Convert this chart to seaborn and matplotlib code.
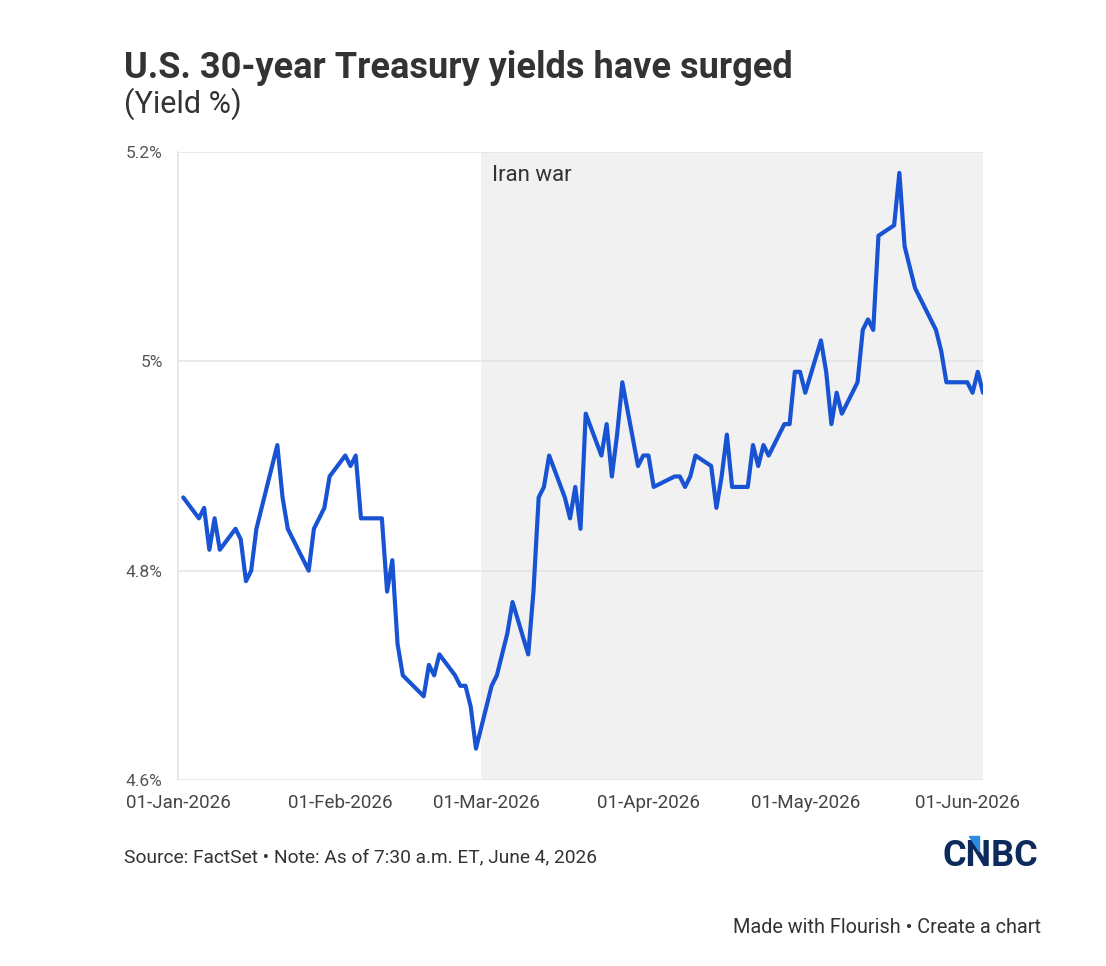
import pandas as pd
import seaborn as sns
import matplotlib.pyplot as plt
from matplotlib.patches import Polygon

# 30-year Treasury yield, daily closes
dates = [
    '2026-01-02', '2026-01-05', '2026-01-06', '2026-01-07', '2026-01-08', '2026-01-09',
    '2026-01-12', '2026-01-13', '2026-01-14', '2026-01-15', '2026-01-16',
    '2026-01-20', '2026-01-21', '2026-01-22', '2026-01-23',
    '2026-01-26', '2026-01-27', '2026-01-28', '2026-01-29', '2026-01-30',
    '2026-02-02', '2026-02-03', '2026-02-04', '2026-02-05', '2026-02-06',
    '2026-02-09', '2026-02-10', '2026-02-11', '2026-02-12', '2026-02-13',
    '2026-02-17', '2026-02-18', '2026-02-19', '2026-02-20',
    '2026-02-23', '2026-02-24', '2026-02-25', '2026-02-26', '2026-02-27',
    '2026-03-02', '2026-03-03', '2026-03-04', '2026-03-05', '2026-03-06',
    '2026-03-09', '2026-03-10', '2026-03-11', '2026-03-12', '2026-03-13',
    '2026-03-16', '2026-03-17', '2026-03-18', '2026-03-19', '2026-03-20',
    '2026-03-23', '2026-03-24', '2026-03-25', '2026-03-26', '2026-03-27',
    '2026-03-30', '2026-03-31', '2026-04-01', '2026-04-02',
    '2026-04-06', '2026-04-07', '2026-04-08', '2026-04-09', '2026-04-10',
    '2026-04-13', '2026-04-14', '2026-04-15', '2026-04-16', '2026-04-17',
    '2026-04-20', '2026-04-21', '2026-04-22', '2026-04-23', '2026-04-24',
    '2026-04-27', '2026-04-28', '2026-04-29', '2026-04-30', '2026-05-01',
    '2026-05-04', '2026-05-05', '2026-05-06', '2026-05-07', '2026-05-08',
    '2026-05-11', '2026-05-12', '2026-05-13', '2026-05-14', '2026-05-15',
    '2026-05-18', '2026-05-19', '2026-05-20', '2026-05-21', '2026-05-22',
    '2026-05-26', '2026-05-27', '2026-05-28', '2026-05-29',
    '2026-06-01', '2026-06-02', '2026-06-03', '2026-06-04',
]
yields = [
    4.87, 4.85, 4.86, 4.82, 4.85, 4.82,
    4.84, 4.83, 4.79, 4.80, 4.84,
    4.92, 4.87, 4.84, 4.83,
    4.80, 4.84, 4.85, 4.86, 4.89,
    4.91, 4.90, 4.91, 4.85, 4.85,
    4.85, 4.78, 4.81, 4.73, 4.70,
    4.68, 4.71, 4.70, 4.72,
    4.70, 4.69, 4.69, 4.67, 4.63,
    4.69, 4.70, 4.72, 4.74, 4.77,
    4.72, 4.78, 4.87, 4.88, 4.91,
    4.87, 4.85, 4.88, 4.84, 4.95,
    4.91, 4.94, 4.89, 4.93, 4.98,
    4.90, 4.91, 4.91, 4.88,
    4.89, 4.89, 4.88, 4.89, 4.91,
    4.90, 4.86, 4.89, 4.93, 4.88,
    4.88, 4.92, 4.90, 4.92, 4.91,
    4.94, 4.94, 4.99, 4.99, 4.97,
    5.02, 4.99, 4.94, 4.97, 4.95,
    4.98, 5.03, 5.04, 5.03, 5.12,
    5.13, 5.18, 5.11, 5.09, 5.07,
    5.03, 5.01, 4.98, 4.98,
    4.98, 4.97, 4.99, 4.97,
]

war_start = '2026-02-28'
y_ticks = [4.6, 4.8, 5.0, 5.2]
y_labels = ['4.6%', '4.8%', '5%', '5.2%']
x_ticks = ['2026-01-01', '2026-02-01', '2026-03-01', '2026-04-01', '2026-05-01', '2026-06-01']
x_labels = ['01-Jan-2026', '01-Feb-2026', '01-Mar-2026', '01-Apr-2026', '01-May-2026', '01-Jun-2026']

df = pd.DataFrame({'date': pd.to_datetime(dates), 'yield': yields})

sns.set_style("white")
plt.rcParams['font.family'] = ['Roboto', 'DejaVu Sans']

fig = plt.figure(figsize=(11.06, 9.66), dpi=100)
ax = fig.add_axes([178 / 1106, 1 - 780 / 966, (983 - 178) / 1106, (780 - 152) / 966])

ax.axvspan(pd.Timestamp(war_start), df['date'].iloc[-1], color='#f1f1f1', zorder=0.2, lw=0)
sns.lineplot(data=df, x='date', y='yield', ax=ax, color='#1753d2', linewidth=3.0, zorder=3)

ax.set_xlim(pd.Timestamp('2026-01-01'), df['date'].iloc[-1])
ax.set_ylim(4.6, 5.2)
ax.set_yticks(y_ticks)
ax.set_yticklabels(y_labels)
ax.set_xticks(pd.to_datetime(x_ticks))
ax.set_xticklabels(x_labels)
ax.set_xlabel('')
ax.set_ylabel('')

ax.grid(axis='y', color='#e4e4e4', linewidth=1.2)
ax.set_axisbelow(True)
for s in ['top', 'right', 'bottom']:
    ax.spines[s].set_visible(False)
ax.spines['left'].set_color('#e4e4e4')
ax.spines['left'].set_linewidth(1.2)

ax.tick_params(axis='y', length=7, width=1.2, color='#e4e4e4', pad=4, labelsize=12.5, labelcolor='#555555')
ax.tick_params(axis='x', length=7, width=1.2, color='#e0e0e0', pad=3, labelsize=13.5, labelcolor='#444444')

ax.text(pd.Timestamp(war_start) + pd.Timedelta(days=2), 5.188, 'Iran war', fontsize=16,
        color='#333333', va='top', ha='left')

fig.text(124 / 1106, 1 - 78 / 966, 'U.S. 30-year Treasury yields have surged',
         fontsize=26, fontweight='bold', color='#333333', va='baseline')
fig.text(124 / 1106, 1 - 113 / 966, '(Yield %)', fontsize=22, color='#333333', va='baseline')
fig.text(124 / 1106, 1 - 862 / 966, 'Source: FactSet \u2022 Note: As of 7:30 a.m. ET, June 4, 2026',
         fontsize=13.8, color='#333333', va='baseline')
fig.text(1041 / 1106, 1 - 933 / 966, 'Made with Flourish \u2022 Create a chart',
         fontsize=14.3, color='#333333', va='baseline', ha='right')

# CNBC wordmark
fig.text(1038 / 1106, 1 - 866 / 966, 'CNBC', fontsize=26, fontweight='bold',
         color='#0c2a5b', va='baseline', ha='right')
tri = Polygon([(969 / 1106, 1 - 836 / 966), (979 / 1106, 1 - 836 / 966), (979 / 1106, 1 - 851 / 966)],
              closed=True, transform=fig.transFigure, color='#2d8be0', zorder=5)
fig.patches.append(tri)

plt.savefig('out.png', dpi=100)
plt.close()
